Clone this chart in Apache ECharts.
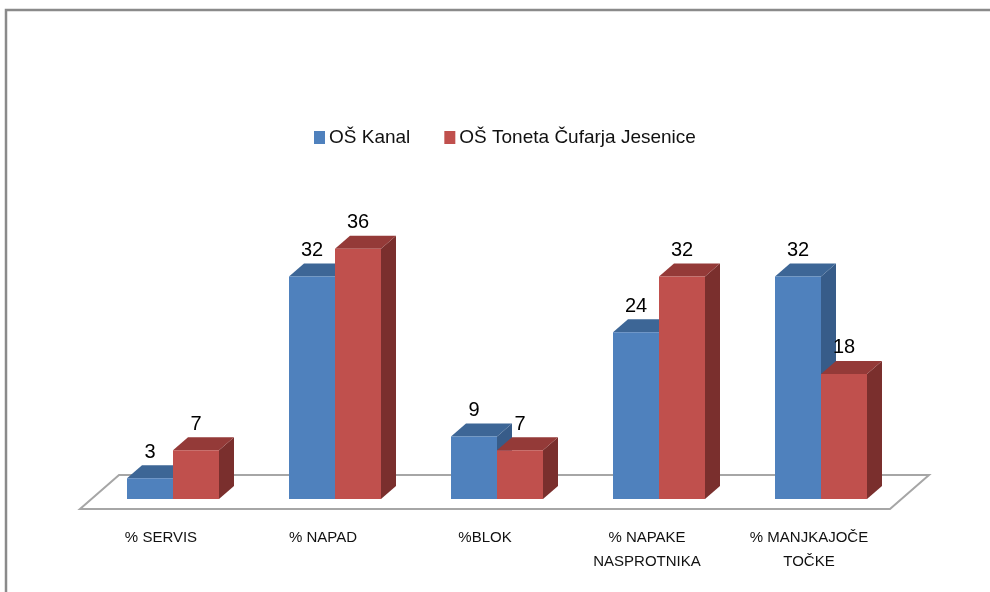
<!DOCTYPE html>
<html>
<head>
<meta charset="utf-8">
<script src="https://cdn.jsdelivr.net/npm/echarts@6/dist/echarts.min.js"></script>
<style>html,body{margin:0;padding:0;background:#fff}#c{width:990px;height:592px}</style>
</head>
<body>
<div id="c"></div>
<script>
const categories = ['% SERVIS', '% NAPAD', '%BLOK', '% NAPAKE\nNASPROTNIKA', '% MANJKAJOČE\nTOČKE'];
const seriesNames = ['OŠ Kanal', 'OŠ Toneta Čufarja Jesenice'];
const kanalValues = [3, 32, 9, 24, 32];
const jeseniceValues = [7, 36, 7, 32, 18];

const chart = echarts.init(document.getElementById('c'));
const DX = 15, DY = -13;

function barRender(front, top, side, leftSide) {
  return function (params, api) {
    const idx = api.value(0), val = api.value(1);
    const band = api.size([1, 0])[0];
    const W = band * 46 / 162;
    const base = api.coord([idx, 0]);
    const tp = api.coord([idx, val]);
    const cx = base[0];
    const x0 = leftSide ? cx - W : cx;
    const x1 = x0 + W;
    const yb = base[1], yt = tp[1];
    return {
      type: 'group',
      children: [
        { type: 'polygon', shape: { points: [[x1, yt], [x1 + DX, yt + DY], [x1 + DX, yb + DY], [x1, yb]] }, style: { fill: side } },
        { type: 'polygon', shape: { points: [[x0, yt], [x1, yt], [x1 + DX, yt + DY], [x0 + DX, yt + DY]] }, style: { fill: top } },
        { type: 'rect', shape: { x: x0, y: yt, width: W, height: yb - yt }, style: { fill: front } },
        { type: 'text', style: { text: String(val), x: (x0 + x1) / 2, y: yt - 26, align: 'center', verticalAlign: 'middle', font: '20px "Liberation Sans", Arial, sans-serif', fill: '#000' } }
      ]
    };
  };
}

function floorRender(params, api) {
  const cs = params.coordSys;
  const fx0 = cs.x - 12, fy = cs.y + cs.height + 10;
  const fx1 = fx0 + cs.width;
  const bx = 39, by = -34;
  return {
    type: 'polygon',
    shape: { points: [[fx0, fy], [fx1, fy], [fx1 + bx, fy + by], [fx0 + bx, fy + by]] },
    style: { fill: '#fff', stroke: '#a6a6a6', lineWidth: 2 }
  };
}

chart.setOption({
  animation: false,
  backgroundColor: '#fff',
  graphic: [{
    type: 'rect', z: -10,
    shape: { x: 6, y: 10, width: 1010, height: 620 },
    style: { fill: 'none', stroke: '#8a8a8a', lineWidth: 2.5 }
  }],
  legend: {
    data: seriesNames,
    left: 309,
    top: 123,
    icon: 'rect',
    itemWidth: 11,
    itemHeight: 13,
    itemGap: 34,
    textStyle: { fontSize: 19, fontFamily: '"Liberation Sans", Arial, sans-serif', color: '#111', padding: [0, 0, 0, -1] }
  },
  grid: [
    { left: 92, width: 810, top: 221, bottom: 93 },
    { left: 80, width: 810, top: 221, bottom: 83 }
  ],
  xAxis: [
    { type: 'category', data: categories, gridIndex: 0, show: false },
    {
      type: 'category', data: categories, gridIndex: 1,
      axisLine: { show: false }, axisTick: { show: false },
      axisLabel: { interval: 0, margin: 17, fontSize: 15, lineHeight: 24, color: '#111', fontFamily: '"Liberation Sans", Arial, sans-serif' }
    }
  ],
  yAxis: [
    { type: 'value', min: 0, max: 40, gridIndex: 0, show: false },
    { type: 'value', min: 0, max: 40, gridIndex: 1, show: false }
  ],
  series: [
    { type: 'custom', name: 'floor', xAxisIndex: 0, yAxisIndex: 0, data: [[0, 0]], renderItem: floorRender, z: 1, silent: true },
    {
      type: 'custom', name: seriesNames[0], xAxisIndex: 0, yAxisIndex: 0, z: 2,
      itemStyle: { color: '#4F81BD' },
      data: kanalValues.map((v, i) => [i, v]),
      renderItem: barRender('#4F81BD', '#3D6696', '#375C89', true)
    },
    {
      type: 'custom', name: seriesNames[1], xAxisIndex: 0, yAxisIndex: 0, z: 3,
      itemStyle: { color: '#C0504D' },
      data: jeseniceValues.map((v, i) => [i, v]),
      renderItem: barRender('#C0504D', '#943A38', '#7A2F2D', false)
    }
  ]
});
</script>
</body>
</html>
